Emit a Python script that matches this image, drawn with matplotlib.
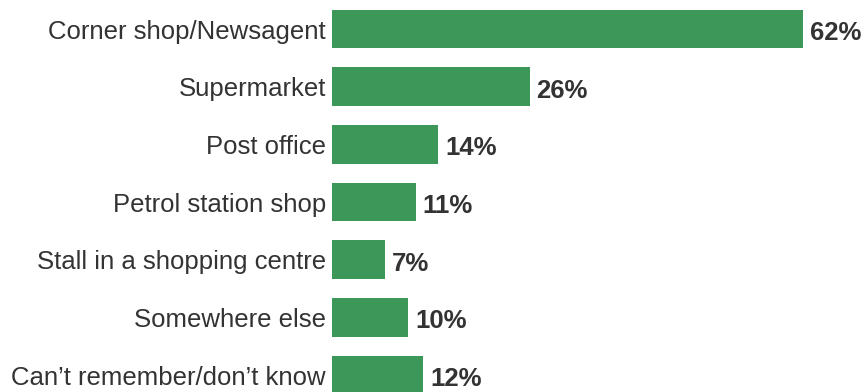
import matplotlib
matplotlib.use("Agg")
import matplotlib.pyplot as plt

categories = [
    "Corner shop/Newsagent",
    "Supermarket",
    "Post office",
    "Petrol station shop",
    "Stall in a shopping centre",
    "Somewhere else",
    "Can\u2019t remember/don\u2019t know",
]
values = [62, 26, 14, 11, 7, 10, 12]

BAR_COLOR = "#3b9858"
TEXT_COLOR = "#333333"
plt.rcParams["font.family"] = ["Liberation Sans", "DejaVu Sans"]

W, H, DPI = 865, 392, 100
fig = plt.figure(figsize=(W / DPI, H / DPI), dpi=DPI)
ax = fig.add_axes([332 / W, 0, 1 - 332 / W, 1])

pos = list(range(len(categories)))
ax.barh(pos, values, height=0.667, color=BAR_COLOR)

ax.set_xlim(0, 533 / 7.6)
ax.set_ylim(6.294, -0.503)

ax.set_yticks(pos)
ax.set_yticklabels(categories, fontsize=18.5, color=TEXT_COLOR)
ax.tick_params(axis="y", length=0, pad=4.3)
ax.set_xticks([])
for s in ax.spines.values():
    s.set_visible(False)

for p, v in zip(pos, values):
    ax.annotate(f"{v}%", xy=(v, p), xytext=(5, -2.8), textcoords="offset points",
                ha="left", va="center", fontsize=18.5, fontweight="bold",
                color=TEXT_COLOR, annotation_clip=False)

fig.savefig("out.png", dpi=DPI)
